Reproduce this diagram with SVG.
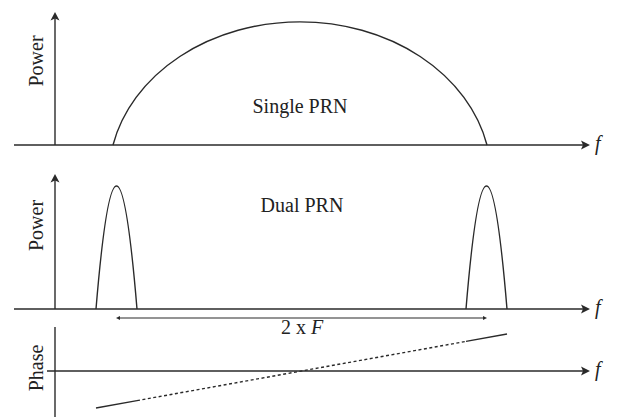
<svg xmlns="http://www.w3.org/2000/svg" width="622" height="417" viewBox="0 0 622 417">
<defs>
<style>
.ax{stroke:#2a2a2a;stroke-width:1.4;fill:none}
.cv{stroke:#2a2a2a;stroke-width:1.4;fill:none}
.ah{fill:#2a2a2a;stroke:none}
.t{font-family:'Liberation Serif','DejaVu Serif',serif;font-size:20px;fill:#222}
.i{font-style:italic}
</style>
</defs>
<rect width="622" height="417" fill="#ffffff"/>
<g id="connectors">
<line class="ax" x1="55" y1="17" x2="55" y2="145"/>
<path class="ah" d="M55,12 L59.5,20.5 L55,18.5 L50.5,20.5 Z"/>
<line class="ax" x1="14" y1="145" x2="584" y2="145"/>
<path class="ah" d="M590,145 L581,140.5 L583,145 L581,149.5 Z"/>
<line class="ax" x1="55" y1="179" x2="55" y2="309"/>
<path class="ah" d="M55,174 L59.5,182.5 L55,180.5 L50.5,182.5 Z"/>
<line class="ax" x1="14" y1="309" x2="584" y2="309"/>
<path class="ah" d="M590,309 L581,304.5 L583,309 L581,313.5 Z"/>
<line class="ax" x1="118" y1="318" x2="485" y2="318" style="stroke-width:1.1"/>
<path class="ah" d="M116,318 L120,316 L120,320 Z"/>
<path class="ah" d="M487,318 L483,316 L483,320 Z"/>
<line class="ax" x1="55" y1="327" x2="55" y2="417"/>
<line class="ax" x1="47" y1="371" x2="584" y2="371"/>
<path class="ah" d="M590,371 L581,366.5 L583,371 L581,375.5 Z"/>
</g>
<g id="single-prn">
<path class="cv" d="M113,145 A191.3,156 0 0 1 487,145"/>
<text class="t" x="300" y="113" text-anchor="middle" font-family="Liberation Serif, DejaVu Serif, serif">Single PRN</text>
</g>
<g id="dual-prn">
<path class="cv" d="M96,309 Q116.5,63 137,309"/>
<path class="cv" d="M466,309 Q486.5,63 507,309"/>
<text class="t" x="302" y="212" text-anchor="middle">Dual PRN</text>
</g>
<g id="phase">
<line class="cv" x1="96" y1="408" x2="137" y2="400.6"/>
<line class="cv" x1="137" y1="400.6" x2="466" y2="341.4" style="stroke-dasharray:3 2.5"/>
<line class="cv" x1="466" y1="341.4" x2="507" y2="334"/>
</g>
<g id="labels">
<text class="t" transform="translate(43,61) rotate(-90)" text-anchor="middle">Power</text>
<text class="t" transform="translate(43,225.5) rotate(-90)" text-anchor="middle">Power</text>
<text class="t" transform="translate(43,368) rotate(-90)" text-anchor="middle">Phase</text>
<text class="t" x="302" y="334" text-anchor="middle">2 x <tspan class="i">F</tspan></text>
<text class="t i" x="595" y="150">f</text>
<text class="t i" x="595" y="314">f</text>
<text class="t i" x="595" y="376">f</text>
</g>
</svg>
